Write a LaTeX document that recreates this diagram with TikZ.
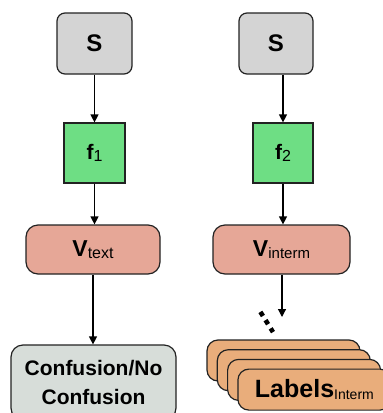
\documentclass[tikz,border=0pt]{standalone}
\usepackage{fontspec}
\setmainfont{Liberation Sans}
\usetikzlibrary{arrows.meta}
\definecolor{sgray}{HTML}{D4D4D4}
\definecolor{fgreen}{HTML}{6EDE84}
\definecolor{vsalmon}{HTML}{E6A797}
\definecolor{cgray}{HTML}{D7DDD9}
\definecolor{corange}{HTML}{E9AD7B}
\definecolor{edge}{HTML}{222222}
\tikzset{
  box/.style={draw=edge, line width=1.2pt, inner sep=0pt, align=center, text=black},
  sbox/.style={box, fill=sgray, rounded corners=8pt, minimum width=75pt, minimum height=61pt, font=\fontsize{24}{28}\selectfont\bfseries},
  fbox/.style={box, fill=fgreen, minimum width=61pt, minimum height=60pt, font=\fontsize{21}{25}\selectfont\bfseries},
  vbox/.style={box, fill=vsalmon, rounded corners=12pt, minimum height=49pt, font=\fontsize{23}{27}\selectfont\bfseries},
  cbox/.style={box, fill=cgray, rounded corners=12pt, minimum width=165pt, minimum height=75pt, font=\fontsize{21}{29}\selectfont\bfseries},
  card/.style={box, fill=corange, rounded corners=11pt, minimum width=153pt, minimum height=41pt, font=\fontsize{25}{29}\selectfont\bfseries},
  arr/.style={draw=black, line width=1.2pt, -{Triangle[length=8pt,width=8pt]}},
}
\newcommand{\sub}[2]{\raisebox{-1.5pt}{\fontsize{#1}{#1}\selectfont\mdseries #2}}
\begin{document}
\begin{tikzpicture}[x=1pt,y=-1pt]
\useasboundingbox (0,0) rectangle (383,413);
\clip (0,0) rectangle (383,413);
% left column
\node[sbox] (s1) at (94.5,43.5) {S};
\node[fbox] (f1) at (94.5,153) {f\sub{16}{1}};
\node[vbox, minimum width=134pt] (v1) at (93,249.5) {V\sub{16}{text}};
\node[cbox] (c1) at (93.5,382.5) {Confusion/No\\Confusion};
% right column
\node[sbox, minimum width=74pt] (s2) at (276,43.5) {S};
\node[fbox, minimum width=60pt] (f2) at (283,153) {f\sub{16}{2}};
\node[vbox, minimum width=137pt] (v2) at (281.5,249.5) {V\sub{15}{interm}};
\coordinate (e2) at (282,317);
% cards
\node[card] (k1) at (283.5,360.5) {};
\node[card] (k2) at (293.8,370.2) {};
\node[card] (k3) at (304.1,379.9) {};
\node[card] (k4) at (314.4,389.6) {Labels\sub{14}{Interm}};
% arrows
\draw[arr] (s1.south) -- (f1.north);
\draw[arr] (f2.north |- s2.south) -- (f2.north);
\draw[arr] (f1.south) -- (f1.south |- v1.north);
\draw[arr] (f2.south) -- (f2.south |- v2.north);
\draw[arr] (v1.south) -- (v1.south |- c1.north);
\draw[arr] (e2 |- v2.south) -- (e2);
% dots
\coordinate (d1) at (260.4,311.9);
\coordinate (d2) at (273,332.1);
\draw[line width=4.6pt, dash pattern=on 4.8pt off 4.9pt] (d1) -- (d2);
\end{tikzpicture}
\end{document}
